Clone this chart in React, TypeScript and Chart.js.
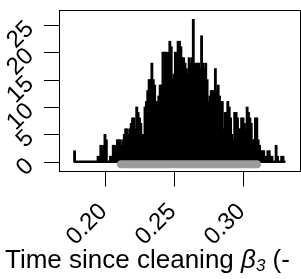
import React, { useEffect, useRef } from "react";
import { Chart, registerables } from "chart.js";

Chart.register(...registerables);

// bin centres (posterior draws rounded to 0.001)
const binX = [
  0.178, 0.179, 0.18, 0.181, 0.182, 0.183, 0.184, 0.185, 0.186, 0.187,
  0.188, 0.189, 0.19, 0.191, 0.192, 0.193, 0.194, 0.195, 0.196, 0.197,
  0.198, 0.199, 0.2, 0.201, 0.202, 0.203, 0.204, 0.205, 0.206, 0.207,
  0.208, 0.209, 0.21, 0.211, 0.212, 0.213, 0.214, 0.215, 0.216, 0.217,
  0.218, 0.219, 0.22, 0.221, 0.222, 0.223, 0.224, 0.225, 0.226, 0.227,
  0.228, 0.229, 0.23, 0.231, 0.232, 0.233, 0.234, 0.235, 0.236, 0.237,
  0.238, 0.239, 0.24, 0.241, 0.242, 0.243, 0.244, 0.245, 0.246, 0.247,
  0.248, 0.249, 0.25, 0.251, 0.252, 0.253, 0.254, 0.255, 0.256, 0.257,
  0.258, 0.259, 0.26, 0.261, 0.262, 0.263, 0.264, 0.265, 0.266, 0.267,
  0.268, 0.269, 0.27, 0.271, 0.272, 0.273, 0.274, 0.275, 0.276, 0.277,
  0.278, 0.279, 0.28, 0.281, 0.282, 0.283, 0.284, 0.285, 0.286, 0.287,
  0.288, 0.289, 0.29, 0.291, 0.292, 0.293, 0.294, 0.295, 0.296, 0.297,
  0.298, 0.299, 0.3, 0.301, 0.302, 0.303, 0.304, 0.305, 0.306, 0.307,
  0.308, 0.309, 0.31, 0.311, 0.312, 0.313, 0.314, 0.315, 0.316, 0.317,
  0.318, 0.319, 0.32, 0.321, 0.322, 0.323, 0.324, 0.325, 0.326, 0.327,
  0.328, 0.329,
];

const counts = [
  2, 0, 0, 0, 0, 0, 0, 0, 0, 0,
  0, 0, 0, 0, 0, 0, 0, 1, 1, 3,
  2, 3, 5, 4, 0, 0, 1, 1, 3, 3,
  2, 4, 4, 4, 3, 4, 5, 6, 6, 5,
  6, 7, 8, 8, 6, 10, 9, 8, 7, 5,
  5, 10, 11, 13, 15, 15, 18, 15, 14, 11,
  11, 12, 14, 14, 20, 20, 20, 19, 20, 22,
  21, 15, 16, 20, 20, 22, 22, 21, 19, 19,
  18, 17, 16, 19, 18, 19, 26, 18, 17, 18,
  18, 17, 23, 18, 17, 18, 15, 11, 12, 13,
  13, 13, 17, 13, 14, 12, 11, 11, 6, 9,
  9, 11, 10, 8, 5, 4, 9, 9, 8, 6,
  6, 8, 8, 7, 6, 10, 9, 8, 7, 4,
  4, 8, 8, 4, 3, 2, 2, 2, 1, 1,
  2, 2, 1, 1, 0, 0, 3, 1, 0, 0,
  1, 1,
];

const baselineX = [0.178, 0.33];
const intervalX = [0.2116, 0.3101];
const intervalY = -0.45;

const xMin = 0.1667;
const xMax = 0.3413;
const yMin = -1.7;
const yMax = 27.7;

const xTicks = [0.2, 0.25, 0.3];
const xTickLabels = ["0.20", "0.25", "0.30"];
const yTicks = [0, 5, 10, 15, 20, 25];
const yTickLabels = ["0", "5", "10", "15", "20", "25"];

const FONT = '"Liberation Sans", Arial, sans-serif';

const axesPlugin = {
  id: "rAxes",
  afterDraw(chart: any) {
    const ctx = chart.ctx as CanvasRenderingContext2D;
    const { left, right, top, bottom } = chart.chartArea;
    const xs = chart.scales.x;
    const ys = chart.scales.y;
    ctx.save();
    ctx.strokeStyle = "#000";
    ctx.fillStyle = "#000";
    ctx.lineWidth = 1;
    // box
    ctx.strokeRect(left + 0.5, top + 0.5, right - left, bottom - top);
    // y ticks
    yTicks.forEach((v, i) => {
      const y = Math.round(ys.getPixelForValue(v)) + 0.5;
      ctx.beginPath();
      ctx.moveTo(left - 15, y);
      ctx.lineTo(left, y);
      ctx.stroke();
      ctx.save();
      ctx.font = `24px ${FONT}`;
      ctx.translate(30, y);
      ctx.rotate(-Math.PI / 4);
      ctx.textAlign = "right";
      ctx.textBaseline = "middle";
      ctx.fillText(yTickLabels[i], 0, 0);
      ctx.restore();
    });
    // x ticks
    xTicks.forEach((v, i) => {
      const x = Math.round(xs.getPixelForValue(v)) + 0.5;
      ctx.beginPath();
      ctx.moveTo(x, bottom + 0.5);
      ctx.lineTo(x, bottom + 15.5);
      ctx.stroke();
      ctx.save();
      ctx.font = `24px ${FONT}`;
      ctx.translate(x - 2, bottom + 37);
      ctx.rotate(-Math.PI / 4);
      ctx.textAlign = "right";
      ctx.textBaseline = "middle";
      ctx.fillText(xTickLabels[i], 0, 0);
      ctx.restore();
    });
    // x title
    let tx = 5;
    const ty = 268;
    ctx.textBaseline = "alphabetic";
    ctx.textAlign = "left";
    ctx.font = `26px ${FONT}`;
    const p1 = "Time since cleaning ";
    ctx.fillText(p1, tx, ty);
    tx += ctx.measureText(p1).width;
    ctx.font = `italic 26px ${FONT}`;
    ctx.fillText("\u03B2", tx, ty);
    tx += ctx.measureText("\u03B2").width;
    ctx.font = `italic 17px ${FONT}`;
    ctx.fillText("3", tx, ty + 3);
    tx += ctx.measureText("3").width;
    ctx.font = `26px ${FONT}`;
    ctx.fillText(" (-", tx, ty);
    ctx.restore();
  },
};

export default function App() {
  const ref = useRef<HTMLCanvasElement | null>(null);
  useEffect(() => {
    document.body.style.margin = "0";
    const canvas = ref.current;
    if (!canvas) return;
    const chart = new Chart(canvas, {
      type: "bar",
      data: {
        datasets: [
          {
            type: "line",
            data: intervalX.map((x) => ({ x, y: intervalY })),
            borderColor: "#9b9b9b",
            borderWidth: 8,
            borderCapStyle: "round",
            pointRadius: 0,
            order: 0,
          } as any,
          {
            type: "line",
            data: baselineX.map((x) => ({ x, y: 0 })),
            borderColor: "#000",
            borderWidth: 2.4,
            borderCapStyle: "round",
            pointRadius: 0,
            order: 1,
          } as any,
          {
            type: "bar",
            data: binX.map((x, i) => ({ x, y: counts[i] })),
            backgroundColor: "#000",
            borderWidth: 0,
            barThickness: 2.2,
            order: 2,
          } as any,
        ],
      },
      options: {
        animation: false,
        responsive: false,
        events: [],
        layout: { padding: { left: 59, top: 10, right: 1, bottom: 108 } },
        plugins: { legend: { display: false }, tooltip: { enabled: false } },
        scales: {
          x: { type: "linear", min: xMin, max: xMax, offset: false, display: false },
          y: { type: "linear", min: yMin, max: yMax, display: false },
        },
      } as any,
      plugins: [axesPlugin],
    });
    return () => chart.destroy();
  }, []);
  return <canvas ref={ref} width={301} height={279} style={{ display: "block" }} />;
}
